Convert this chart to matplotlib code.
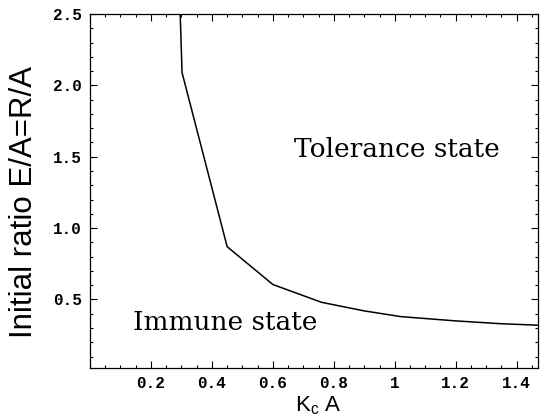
import matplotlib
matplotlib.use("Agg")
import matplotlib.pyplot as plt
from matplotlib.ticker import MultipleLocator

plt.rcParams['mathtext.fontset'] = 'custom'
plt.rcParams['mathtext.rm'] = 'Liberation Sans'
plt.rcParams['mathtext.it'] = 'Liberation Sans'

# Boundary curve between immune and tolerance states
kc_a = [0.296, 0.302, 0.45, 0.60, 0.76, 0.90, 1.02, 1.20, 1.35, 1.47]
ratio = [2.50, 2.09, 0.87, 0.605, 0.48, 0.42, 0.38, 0.35, 0.33, 0.32]

x_ticks = [0.2, 0.4, 0.6, 0.8, 1.0, 1.2, 1.4]
x_tick_labels = ["0.2", "0.4", "0.6", "0.8", "1", "1.2", "1.4"]
y_ticks = [0.5, 1.0, 1.5, 2.0, 2.5]
y_tick_labels = ["0.5", "1.0", "1.5", "2.0", "2.5"]

fig = plt.figure(figsize=(5.4, 4.19), dpi=100)
ax = fig.add_axes([90/540, 1-368/419, 448/540, 354/419])

ax.plot(kc_a, ratio, color='black', lw=1.1)

ax.set_xlim(0, 1.47)
ax.set_ylim(0.02, 2.5)

ax.set_xticks(x_ticks)
ax.set_xticklabels(x_tick_labels)
ax.set_yticks(y_ticks)
ax.set_yticklabels(y_tick_labels)
ax.xaxis.set_minor_locator(MultipleLocator(0.05))
ax.yaxis.set_minor_locator(MultipleLocator(0.1))

ax.tick_params(which='both', direction='in', top=True, right=True, width=0.8, color='black')
ax.tick_params(which='major', length=5)
ax.tick_params(which='minor', length=2.5)
for lab in ax.get_xticklabels() + ax.get_yticklabels():
    lab.set_fontfamily('Liberation Mono')
    lab.set_fontsize(11.5)
    lab.set_fontweight('bold')
ax.tick_params(axis='x', pad=6)
ax.tick_params(axis='y', pad=6)

for s in ax.spines.values():
    s.set_linewidth(0.9)

ax.set_ylabel("Initial ratio E/A=R/A", fontfamily='Liberation Sans', fontsize=22.5)
ax.yaxis.label.set_va('center')
ax.yaxis.set_label_coords(-0.147, 0.469)
ax.set_xlabel(r"K$_{\rm c}$ A", fontfamily='Liberation Sans', fontsize=16)
ax.xaxis.label.set_va('center')
ax.xaxis.set_label_coords(0.509, -0.106)

ax.text(0.67, 1.55, "Tolerance state", fontfamily='DejaVu Serif', fontsize=19,
        ha='left', va='center')
ax.text(0.14, 0.34, "Immune state", fontfamily='DejaVu Serif', fontsize=19,
        ha='left', va='center')

fig.savefig("out.png", dpi=100)
